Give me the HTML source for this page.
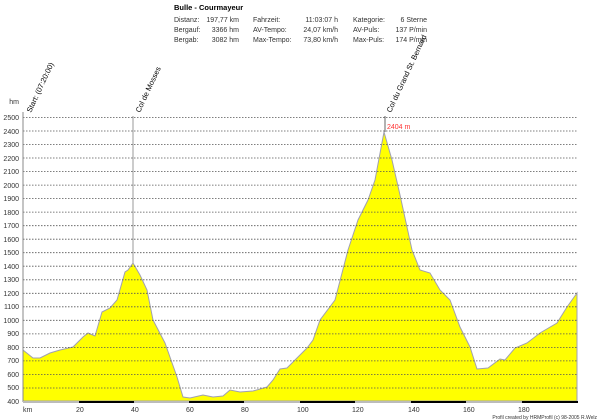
<!DOCTYPE html>
<html><head><meta charset="utf-8"><style>
html,body{margin:0;padding:0;background:#fff;width:600px;height:420px;overflow:hidden}
svg{display:block;font-family:"Liberation Sans",sans-serif}
</style></head><body>
<svg width="600" height="420" viewBox="0 0 600 420" xmlns="http://www.w3.org/2000/svg">
<text x="174" y="10" font-size="7.5" font-weight="bold" fill="#000">Bulle - Courmayeur</text>
<g font-size="7" fill="#333">
<text x="174" y="22">Distanz:</text><text x="239" y="22" text-anchor="end">197,77 km</text>
<text x="174" y="32">Bergauf:</text><text x="239" y="32" text-anchor="end">3366 hm</text>
<text x="174" y="42">Bergab:</text><text x="239" y="42" text-anchor="end">3082 hm</text>
<text x="253" y="22">Fahrzeit:</text><text x="338" y="22" text-anchor="end">11:03:07 h</text>
<text x="253" y="32">AV-Tempo:</text><text x="338" y="32" text-anchor="end">24,07 km/h</text>
<text x="253" y="42">Max-Tempo:</text><text x="338" y="42" text-anchor="end">73,80 km/h</text>
<text x="353" y="22">Kategorie:</text><text x="427" y="22" text-anchor="end">6 Sterne</text>
<text x="353" y="32">AV-Puls:</text><text x="427" y="32" text-anchor="end">137 P/min</text>
<text x="353" y="42">Max-Puls:</text><text x="427" y="42" text-anchor="end">174 P/min</text>
</g>
<path fill="#ffff00" stroke="#a0a0b0" stroke-width="1" d="M23,350 L33,358 L40,358 L50,353 L60,350 L73,347 L83,337 L88,333 L95,336 L102,312 L110,308 L117,300 L125,272 L128,270 L133,263 L140,275 L147,290 L153,320 L165,343 L177,377 L183,397 L190,398 L203,395 L213,397 L223,396 L230,390 L240,392 L253,391 L267,387 L273,380 L280,369 L287,368 L297,358 L307,348 L313,340 L320,320 L335,300 L348,250 L358,220 L368,200 L375,180 L384,132 L392,160 L400,195 L412,250 L420,270 L430,273 L440,290 L450,300 L460,327 L470,347 L477,369 L488,368 L500,359 L505,360 L515,348 L527,343 L540,333 L557,323 L567,307 L577,293 L577,401 L23,401 Z"/>
<g stroke="#555" stroke-width="0.8" stroke-dasharray="1.5,1.5">
<line x1="23" x2="578" y1="117.5" y2="117.5"/><line x1="23" x2="578" y1="131" y2="131"/><line x1="23" x2="578" y1="144.5" y2="144.5"/><line x1="23" x2="578" y1="158" y2="158"/><line x1="23" x2="578" y1="171.6" y2="171.6"/><line x1="23" x2="578" y1="185.1" y2="185.1"/><line x1="23" x2="578" y1="198.6" y2="198.6"/><line x1="23" x2="578" y1="212.1" y2="212.1"/><line x1="23" x2="578" y1="225.7" y2="225.7"/><line x1="23" x2="578" y1="239.2" y2="239.2"/><line x1="23" x2="578" y1="252.7" y2="252.7"/><line x1="23" x2="578" y1="266.2" y2="266.2"/><line x1="23" x2="578" y1="279.8" y2="279.8"/><line x1="23" x2="578" y1="293.3" y2="293.3"/><line x1="23" x2="578" y1="306.8" y2="306.8"/><line x1="23" x2="578" y1="320.3" y2="320.3"/><line x1="23" x2="578" y1="333.9" y2="333.9"/><line x1="23" x2="578" y1="347.4" y2="347.4"/><line x1="23" x2="578" y1="360.9" y2="360.9"/><line x1="23" x2="578" y1="374.4" y2="374.4"/><line x1="23" x2="578" y1="388" y2="388"/>
</g>
<line x1="23" y1="112" x2="23" y2="402" stroke="#888" stroke-width="1"/>
<line x1="133" y1="116" x2="133" y2="263" stroke="#999" stroke-width="1"/>
<line x1="385" y1="116" x2="385" y2="132" stroke="#666" stroke-width="1"/>
<rect x="23" y="401" width="555" height="2" fill="#bbb"/>
<g fill="#000"><rect x="79" y="401" width="55" height="2"/><rect x="189" y="401" width="55" height="2"/><rect x="300" y="401" width="55" height="2"/><rect x="411" y="401" width="55" height="2"/><rect x="522" y="401" width="56" height="2"/></g>
<g font-size="7" fill="#333" text-anchor="end">
<text x="19" y="104">hm</text>
<text x="19" y="120">2500</text><text x="19" y="134">2400</text><text x="19" y="147">2300</text><text x="19" y="161">2200</text><text x="19" y="174">2100</text><text x="19" y="188">2000</text><text x="19" y="201">1900</text><text x="19" y="215">1800</text><text x="19" y="228">1700</text><text x="19" y="242">1600</text><text x="19" y="255">1500</text><text x="19" y="269">1400</text><text x="19" y="282">1300</text><text x="19" y="296">1200</text><text x="19" y="309">1100</text><text x="19" y="323">1000</text><text x="19" y="336">900</text><text x="19" y="350">800</text><text x="19" y="363">700</text><text x="19" y="377">600</text><text x="19" y="390">500</text><text x="19" y="404">400</text>
</g>
<g font-size="7" fill="#333">
<text x="23" y="412">km</text><text x="76" y="412">20</text><text x="131" y="412">40</text><text x="186" y="412">60</text><text x="241" y="412">80</text><text x="297" y="412">100</text><text x="352" y="412">120</text><text x="408" y="412">140</text><text x="463" y="412">160</text><text x="518" y="412">180</text>
</g>
<text x="597" y="419" font-size="5" fill="#333" text-anchor="end">Profil created by HRMProfil (c) 98-2005 R.Welz</text>
<text x="387" y="129" font-size="7" fill="#ff3030">2404 m</text>
<g font-size="7.5" fill="#000">
<text transform="translate(31,113) rotate(-65)">Start: (07:20:00)</text>
<text transform="translate(140,113) rotate(-65)">Col de Mosses</text>
<text transform="translate(391,113) rotate(-65)">Col du Grand St. Bernard</text>
</g>
</svg>
</body></html>
